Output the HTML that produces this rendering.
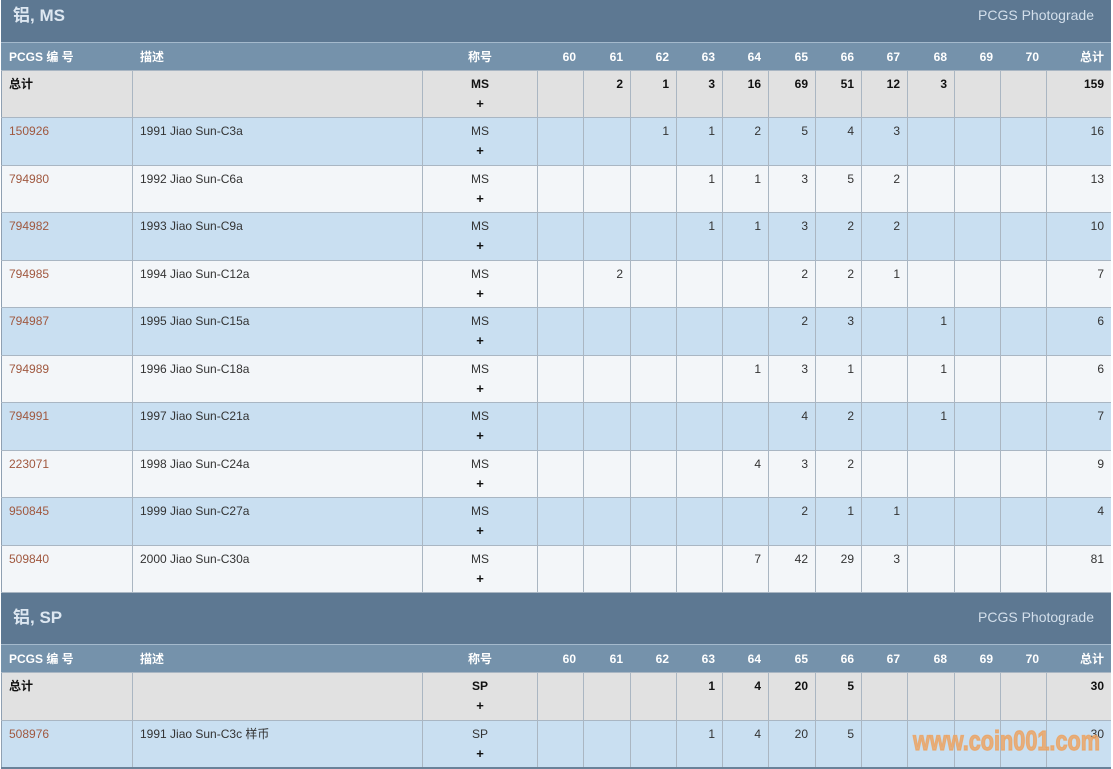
<!DOCTYPE html>
<html><head><meta charset="utf-8">
<style>
html,body{margin:0;padding:0}
body{width:1113px;height:769px;background:#fff;position:relative;overflow:hidden;font-family:"Liberation Sans","Noto Sans CJK SC",sans-serif;font-size:12px;color:#333}
.t{position:absolute;left:1px;width:1110px;background:#5d7892;box-sizing:border-box}
.t .l{position:absolute;left:12px;font-size:17px;font-weight:bold;color:#dde7f1;line-height:20px}
.t .p{position:absolute;right:17px;font-size:14px;color:#d3dfeb;line-height:18px}
.r{position:absolute;left:1px;width:1110px;display:flex;box-sizing:border-box;border-top:1px solid #a9b6c3}
.r>div{box-sizing:border-box;height:100%;border-left:1px solid #aab6c2;padding:4px 7px 0 7px;line-height:19px;text-align:right;white-space:nowrap}
.r>div:nth-child(1){width:131px;text-align:left;border-left-color:#8fa0b2}
.r>div:nth-child(2){width:290px;text-align:left}
.r>div:nth-child(3){width:115px;text-align:center}
.r>div:nth-child(4){width:46px}
.r>div:nth-child(5){width:47px}
.r>div:nth-child(6){width:46px}
.r>div:nth-child(7){width:46px}
.r>div:nth-child(8){width:46px}
.r>div:nth-child(9){width:47px}
.r>div:nth-child(10){width:46px}
.r>div:nth-child(11){width:46px}
.r>div:nth-child(12){width:47px}
.r>div:nth-child(13){width:46px}
.r>div:nth-child(14){width:46px}
.r>div:nth-child(15){width:65px}
.h{background:#7592ab;border-top:1px solid #a4b9cc;color:#fff;font-weight:bold}
.h>div{border-left-color:#7592ab !important;padding-top:5px !important}
.tot{background:#e1e1e1;color:#111;font-weight:bold}
.b{background:#c9dff1}
.w{background:#f3f6f9}
a{color:#a0583f;text-decoration:none}
.pl{font-weight:bold;color:#111;font-size:13px}
</style></head><body>

<div class="t" style="top:0;height:42px"><span class="l" style="top:6px">铝, MS</span><span class="p" style="top:6px">PCGS Photograde</span></div>

<div class="r h" style="top:42px;height:28px"><div>PCGS 编 号</div><div>描述</div><div>称号</div><div>60</div><div>61</div><div>62</div><div>63</div><div>64</div><div>65</div><div>66</div><div>67</div><div>68</div><div>69</div><div>70</div><div>总计</div></div>

<div class="r tot" style="top:70px;height:47px"><div>总计</div><div></div><div>MS<br><span class="pl">+</span></div><div></div><div>2</div><div>1</div><div>3</div><div>16</div><div>69</div><div>51</div><div>12</div><div>3</div><div></div><div></div><div>159</div></div>

<div class="r b" style="top:117px;height:48px"><div><a>150926</a></div><div>1991 Jiao Sun-C3a</div><div>MS<br><span class="pl">+</span></div><div></div><div></div><div>1</div><div>1</div><div>2</div><div>5</div><div>4</div><div>3</div><div></div><div></div><div></div><div>16</div></div>

<div class="r w" style="top:165px;height:47px"><div><a>794980</a></div><div>1992 Jiao Sun-C6a</div><div>MS<br><span class="pl">+</span></div><div></div><div></div><div></div><div>1</div><div>1</div><div>3</div><div>5</div><div>2</div><div></div><div></div><div></div><div>13</div></div>

<div class="r b" style="top:212px;height:48px"><div><a>794982</a></div><div>1993 Jiao Sun-C9a</div><div>MS<br><span class="pl">+</span></div><div></div><div></div><div></div><div>1</div><div>1</div><div>3</div><div>2</div><div>2</div><div></div><div></div><div></div><div>10</div></div>

<div class="r w" style="top:260px;height:47px"><div><a>794985</a></div><div>1994 Jiao Sun-C12a</div><div>MS<br><span class="pl">+</span></div><div></div><div>2</div><div></div><div></div><div></div><div>2</div><div>2</div><div>1</div><div></div><div></div><div></div><div>7</div></div>

<div class="r b" style="top:307px;height:48px"><div><a>794987</a></div><div>1995 Jiao Sun-C15a</div><div>MS<br><span class="pl">+</span></div><div></div><div></div><div></div><div></div><div></div><div>2</div><div>3</div><div></div><div>1</div><div></div><div></div><div>6</div></div>

<div class="r w" style="top:355px;height:47px"><div><a>794989</a></div><div>1996 Jiao Sun-C18a</div><div>MS<br><span class="pl">+</span></div><div></div><div></div><div></div><div></div><div>1</div><div>3</div><div>1</div><div></div><div>1</div><div></div><div></div><div>6</div></div>

<div class="r b" style="top:402px;height:48px"><div><a>794991</a></div><div>1997 Jiao Sun-C21a</div><div>MS<br><span class="pl">+</span></div><div></div><div></div><div></div><div></div><div></div><div>4</div><div>2</div><div></div><div>1</div><div></div><div></div><div>7</div></div>

<div class="r w" style="top:450px;height:47px"><div><a>223071</a></div><div>1998 Jiao Sun-C24a</div><div>MS<br><span class="pl">+</span></div><div></div><div></div><div></div><div></div><div>4</div><div>3</div><div>2</div><div></div><div></div><div></div><div></div><div>9</div></div>

<div class="r b" style="top:497px;height:48px"><div><a>950845</a></div><div>1999 Jiao Sun-C27a</div><div>MS<br><span class="pl">+</span></div><div></div><div></div><div></div><div></div><div></div><div>2</div><div>1</div><div>1</div><div></div><div></div><div></div><div>4</div></div>

<div class="r w" style="top:545px;height:47px"><div><a>509840</a></div><div>2000 Jiao Sun-C30a</div><div>MS<br><span class="pl">+</span></div><div></div><div></div><div></div><div></div><div>7</div><div>42</div><div>29</div><div>3</div><div></div><div></div><div></div><div>81</div></div>

<div class="t" style="top:592px;height:52px;border-top:1px solid #a9b6c3"><span class="l" style="top:15px">铝, SP</span><span class="p" style="top:15px">PCGS Photograde</span></div>

<div class="r h" style="top:644px;height:28px"><div>PCGS 编 号</div><div>描述</div><div>称号</div><div>60</div><div>61</div><div>62</div><div>63</div><div>64</div><div>65</div><div>66</div><div>67</div><div>68</div><div>69</div><div>70</div><div>总计</div></div>

<div class="r tot" style="top:672px;height:48px"><div>总计</div><div></div><div>SP<br><span class="pl">+</span></div><div></div><div></div><div></div><div>1</div><div>4</div><div>20</div><div>5</div><div></div><div></div><div></div><div></div><div>30</div></div>

<div class="r b" style="top:720px;height:49px;border-bottom:2px solid #6a8299"><div><a>508976</a></div><div>1991 Jiao Sun-C3c 样币</div><div>SP<br><span class="pl">+</span></div><div></div><div></div><div></div><div>1</div><div>4</div><div>20</div><div>5</div><div></div><div></div><div></div><div></div><div>30</div></div>

<svg style="position:absolute;left:0;top:0" width="1113" height="769"><text x="913" y="750" font-family="Liberation Sans, sans-serif" font-weight="bold" font-size="28" fill="#eba363" fill-opacity="0.82" stroke="#eba363" stroke-opacity="0.82" stroke-width="1.2" textLength="187" lengthAdjust="spacingAndGlyphs">www.coin001.com</text></svg>

</body></html>
